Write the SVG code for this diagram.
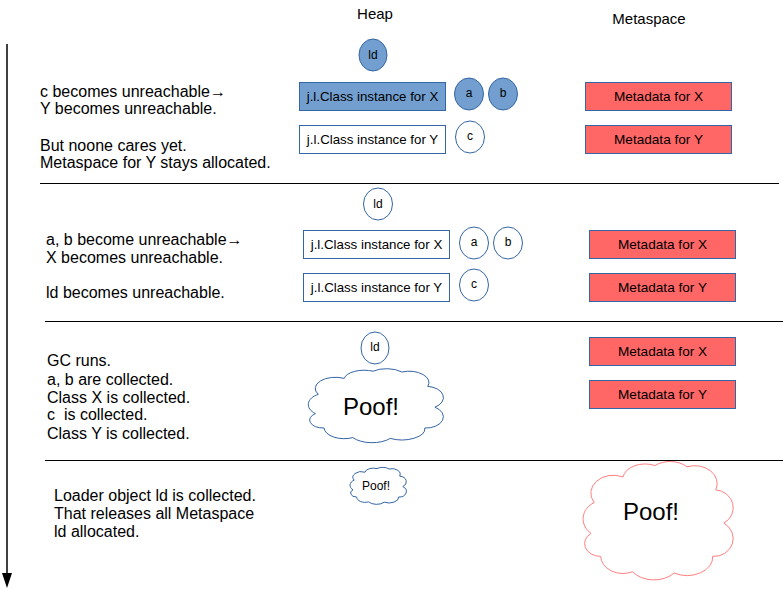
<svg xmlns="http://www.w3.org/2000/svg" xmlns:xlink="http://www.w3.org/1999/xlink" width="783" height="590" viewBox="0 0 783 590">
<style>
text{font-family:"Liberation Sans",Arial,sans-serif;fill:#000}
.lbl{font-size:16px;white-space:pre}
.hdr{font-size:15px;text-anchor:middle}
.bt{font-size:13.3px;text-anchor:middle;dominant-baseline:central}
.mt{font-size:13.6px;text-anchor:middle;dominant-baseline:central}
.et{font-size:12px;text-anchor:middle;dominant-baseline:central}
.blue{fill:#729fcf;stroke:#3465a4;stroke-width:1}
.white{fill:#fff;stroke:#3465a4;stroke-width:1}
.red{fill:#ff6666;stroke:#3465a4;stroke-width:1}
.sep{stroke:#000;stroke-width:1}
.cb{fill:#fff;stroke:#3465a4}
.cr{fill:#fff;stroke:#ff7f7f}
.poof{font-size:24px;text-anchor:middle;dominant-baseline:central}
</style>
<defs>
<path id="cloud" vector-effect="non-scaling-stroke" d="M 10,62 A 12,14 0 0 1 12,38 A 14,14 0 0 1 30,18 A 14,12 0 0 1 50,9 A 14,12 0 0 1 70,10 A 14,14 0 0 1 88,28 A 12,14 0 0 1 93,54 A 12,14 0 0 1 86,80 A 16,14 0 0 1 62,93 A 16,14 0 0 1 36,92 A 14,14 0 0 1 16,80 A 10,10 0 0 1 10,62 Z"/>
</defs>
<g id="connectors">
<line x1="7" y1="44" x2="7" y2="575" stroke="#000" stroke-width="1.5"/>
<polygon points="2,573 12,573 7,588" fill="#000"/>
<line class="sep" x1="40" y1="183.5" x2="779" y2="183.5"/>
<line class="sep" x1="45" y1="321.5" x2="783" y2="321.5"/>
<line class="sep" x1="45" y1="460.5" x2="783" y2="460.5"/>
</g>
<g id="headers">
<text class="hdr" x="375" y="19">Heap</text>
<text class="hdr" x="649" y="24">Metaspace</text>
</g>
<g id="s1">
<text class="lbl" x="40" y="97">c becomes unreachable→</text>
<text class="lbl" x="40" y="114">Y becomes unreachable.</text>
<text class="lbl" x="40" y="151">But noone cares yet.</text>
<text class="lbl" x="40" y="168">Metaspace for Y stays allocated.</text>
<g id="s1-ld"><ellipse class="blue" cx="373" cy="55" rx="14" ry="16"/><text class="et" x="373" y="55">ld</text></g>
<g id="s1-cx"><rect class="blue" x="299.5" y="82.5" width="146" height="28"/><text class="bt" x="372.5" y="96.5">j.l.Class instance for X</text></g>
<g id="s1-a"><ellipse class="blue" cx="469" cy="94" rx="14.5" ry="16"/><text class="et" x="469" y="93">a</text></g>
<g id="s1-b"><ellipse class="blue" cx="503" cy="94" rx="14.5" ry="16"/><text class="et" x="503" y="93">b</text></g>
<g id="s1-cy"><rect class="white" x="299.5" y="125.5" width="146" height="28"/><text class="bt" x="372.5" y="139.5">j.l.Class instance for Y</text></g>
<g id="s1-c"><ellipse class="white" cx="470" cy="137" rx="14.5" ry="16"/><text class="et" x="470" y="136">c</text></g>
<g id="s1-mx"><rect class="red" x="585.5" y="82.5" width="146" height="28"/><text class="mt" x="658.5" y="96.5">Metadata for X</text></g>
<g id="s1-my"><rect class="red" x="585.5" y="125.5" width="146" height="28"/><text class="mt" x="658.5" y="139.5">Metadata for Y</text></g>
</g>
<g id="s2">
<text class="lbl" x="46" y="245">a, b become unreachable→</text>
<text class="lbl" x="46" y="263">X becomes unreachable.</text>
<text class="lbl" x="46" y="298">ld becomes unreachable.</text>
<g id="s2-ld"><ellipse class="white" cx="378" cy="204" rx="14.5" ry="16"/><text class="et" x="378" y="204">ld</text></g>
<g id="s2-cx"><rect class="white" x="303.5" y="230.5" width="146" height="28"/><text class="bt" x="376.5" y="244.5">j.l.Class instance for X</text></g>
<g id="s2-a"><ellipse class="white" cx="474" cy="243" rx="14.5" ry="16"/><text class="et" x="474" y="242">a</text></g>
<g id="s2-b"><ellipse class="white" cx="508" cy="243" rx="14.5" ry="16"/><text class="et" x="508" y="242">b</text></g>
<g id="s2-cy"><rect class="white" x="303.5" y="273.5" width="146" height="28"/><text class="bt" x="376.5" y="287.5">j.l.Class instance for Y</text></g>
<g id="s2-c"><ellipse class="white" cx="474" cy="285" rx="14.5" ry="16"/><text class="et" x="474" y="284">c</text></g>
<g id="s2-mx"><rect class="red" x="589.5" y="230.5" width="146" height="28"/><text class="mt" x="662.5" y="244.5">Metadata for X</text></g>
<g id="s2-my"><rect class="red" x="589.5" y="273.5" width="146" height="28"/><text class="mt" x="662.5" y="287.5">Metadata for Y</text></g>
</g>
<g id="s3">
<text class="lbl" x="47" y="366">GC runs.</text>
<text class="lbl" x="47" y="385">a, b are collected.</text>
<text class="lbl" x="47" y="403">Class X is collected.</text>
<text class="lbl" x="47" y="420">c  is collected.</text>
<text class="lbl" x="47" y="439">Class Y is collected.</text>
<g id="s3-ld"><ellipse class="white" cx="375" cy="348" rx="14" ry="16"/><text class="et" x="375" y="347">ld</text></g>
<g id="s3-poof"><use xlink:href="#cloud" class="cb" transform="translate(301,364) scale(1.44,0.8)"/><text class="poof" x="371" y="406">Poof!</text></g>
<g id="s3-mx"><rect class="red" x="589.5" y="337.5" width="146" height="28"/><text class="mt" x="662.5" y="351.5">Metadata for X</text></g>
<g id="s3-my"><rect class="red" x="589.5" y="380.5" width="146" height="28"/><text class="mt" x="662.5" y="394.5">Metadata for Y</text></g>
</g>
<g id="s4">
<text class="lbl" x="54" y="501">Loader object ld is collected.</text>
<text class="lbl" x="54" y="519">That releases all Metaspace</text>
<text class="lbl" x="54" y="537">ld allocated.</text>
<g id="s4-poof-heap"><use xlink:href="#cloud" class="cb" transform="translate(347,465) scale(0.6,0.4)"/><text class="et" x="376" y="486">Poof!</text></g>
<g id="s4-poof-meta"><use xlink:href="#cloud" class="cr" transform="translate(575,454) scale(1.6,1.28)"/><text class="poof" x="651" y="511">Poof!</text></g>
</g>
</svg>
